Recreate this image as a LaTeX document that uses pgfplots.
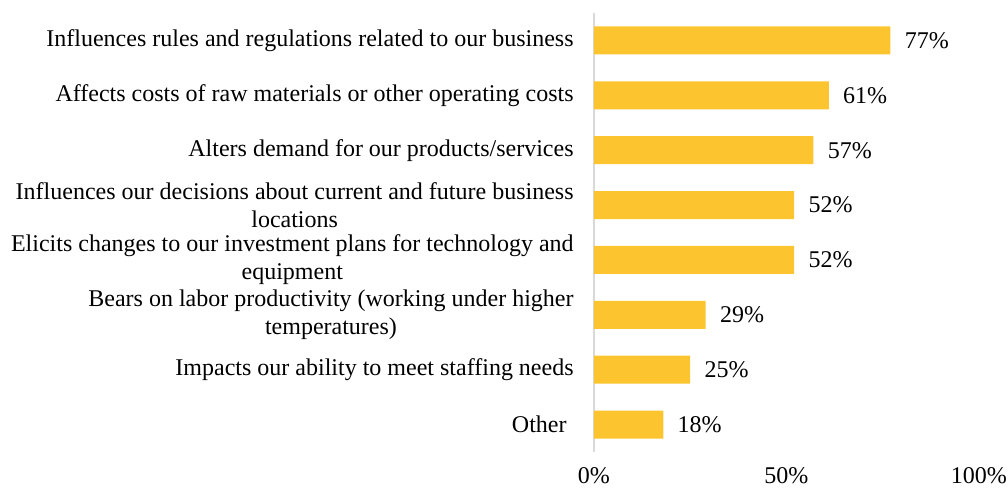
\documentclass[border=0pt]{standalone}
\usepackage{fontspec}
\setmainfont{Liberation Serif}
\usepackage{pgfplots}
\pgfplotsset{compat=1.18}
\definecolor{bargold}{HTML}{FCC52F}
\definecolor{axisgray}{HTML}{D9D9D9}
\begin{document}
\begin{tikzpicture}[font=\fontsize{12pt}{14pt}\selectfont]
  \begin{axis}[name=ax, xbar, bar width=14pt,
      width=192.5pt, height=219.5pt, scale only axis,
      xmin=0, xmax=100, ymin=-0.5, ymax=7.5, y dir=reverse,
      axis lines*=left, axis line style={-},
      x axis line style={draw=none},
      y axis line style={draw=axisgray, line width=1pt},
      major tick length=0pt,
      xtick={0,50,100},
      xticklabel={\pgfmathprintnumber{\tick}\%},
      /pgf/number format/assume math mode=true,
      xticklabel style={anchor=north, inner sep=0pt, yshift=-7.5pt},
      ytick={0,...,7},
      yticklabels={
        {Influences rules and regulations related to our business},
        {Affects costs of raw materials or other operating costs},
        {Alters demand for our products/services},
        {Influences our decisions about current and future business\\locations},
        {Elicits changes to our investment plans for technology and\\equipment},
        {Bears on labor productivity (working under higher\\temperatures)},
        {Impacts our ability to meet staffing needs},
        {Other\kern3.5pt}},
      yticklabel style={align=center, anchor=east, inner sep=0pt, xshift=-10pt},
      nodes near coords={\pgfmathprintnumber{\pgfplotspointmeta}\%},
      nodes near coords style={anchor=west, inner sep=0pt, xshift=7pt},
      clip=false]
    \addplot[fill=bargold, draw=none] coordinates {
      (77,0) (61,1) (57,2) (52,3) (52,4) (29,5) (25,6) (18,7)};
  \end{axis}
  \pgfresetboundingbox
  \path ([shift={(-297pt,-18pt)}]ax.south west) rectangle ++(504pt,244pt);
\end{tikzpicture}
\end{document}
